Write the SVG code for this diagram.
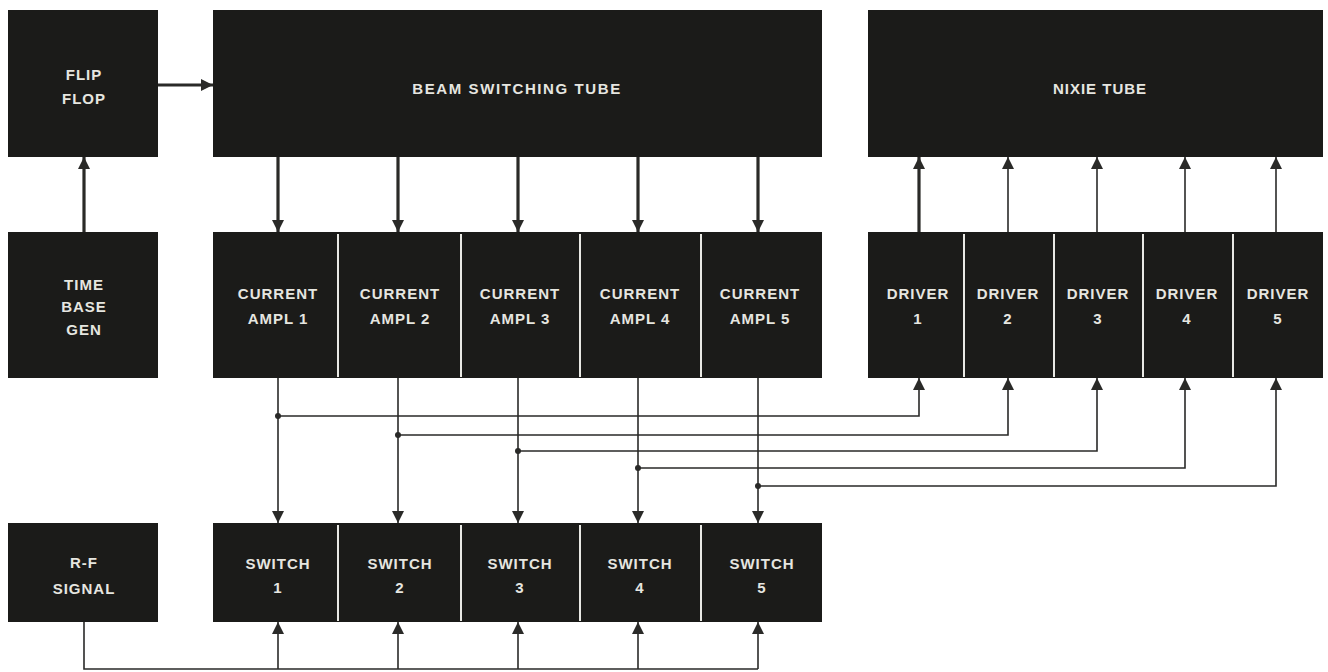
<svg xmlns="http://www.w3.org/2000/svg" width="1328" height="672" viewBox="0 0 1328 672">
<style>
.box{fill:#1b1b19;}
.div{stroke:#e9e9e4;stroke-width:2;}
.t{font-family:"Liberation Sans",Arial,sans-serif;font-weight:bold;font-size:15px;fill:#e6e6e0;text-anchor:middle;letter-spacing:1px;}
.w{fill:none;stroke:#2a2a28;stroke-width:1.6;}
.wt{fill:none;stroke:#2a2a28;stroke-width:3.2;}
.dot{fill:#2a2a28;}
</style>
<defs>
<marker id="ah" markerUnits="userSpaceOnUse" markerWidth="12" markerHeight="14" viewBox="0 0 12 14" refX="12" refY="7" orient="auto">
<path d="M0,1 L12,7 L0,13 Z" fill="#2a2a28"/>
</marker>
</defs>
<rect x="0" y="0" width="1328" height="672" fill="#ffffff"/>

<g id="flipflop"><rect class="box" x="8" y="10" width="150" height="147"/><text class="t" x="84" y="80">FLIP</text><text class="t" x="84" y="104">FLOP</text></g>
<g id="beam"><rect class="box" x="213" y="10" width="609" height="147"/><text class="t" x="517" y="94" style="letter-spacing:1.6px">BEAM SWITCHING TUBE</text></g>
<g id="nixie"><rect class="box" x="868" y="10" width="455" height="147"/><text class="t" x="1100" y="94">NIXIE TUBE</text></g>
<g id="timebase"><rect class="box" x="8" y="232" width="150" height="146"/><text class="t" x="84" y="290">TIME</text><text class="t" x="84" y="312">BASE</text><text class="t" x="84" y="335">GEN</text></g>
<g id="rfsignal"><rect class="box" x="8" y="523" width="150" height="99"/><text class="t" x="84" y="568">R-F</text><text class="t" x="84" y="594">SIGNAL</text></g>

<g id="ampl1"><rect class="box" x="213" y="232" width="125" height="146"/><text class="t" x="278" y="299">CURRENT</text><text class="t" x="278" y="324">AMPL 1</text></g>
<g id="ampl2"><rect class="box" x="338" y="232" width="123" height="146"/><text class="t" x="400" y="299">CURRENT</text><text class="t" x="400" y="324">AMPL 2</text></g>
<g id="ampl3"><rect class="box" x="461" y="232" width="119" height="146"/><text class="t" x="520" y="299">CURRENT</text><text class="t" x="520" y="324">AMPL 3</text></g>
<g id="ampl4"><rect class="box" x="580" y="232" width="121" height="146"/><text class="t" x="640" y="299">CURRENT</text><text class="t" x="640" y="324">AMPL 4</text></g>
<g id="ampl5"><rect class="box" x="701" y="232" width="121" height="146"/><text class="t" x="760" y="299">CURRENT</text><text class="t" x="760" y="324">AMPL 5</text></g>
<g class="dividers"><line class="div" x1="338" y1="234" x2="338" y2="377"/><line class="div" x1="461" y1="234" x2="461" y2="377"/><line class="div" x1="580" y1="234" x2="580" y2="377"/><line class="div" x1="701" y1="234" x2="701" y2="377"/></g>

<g id="driver1"><rect class="box" x="868" y="232" width="96" height="146"/><text class="t" x="918" y="299">DRIVER</text><text class="t" x="918" y="324">1</text></g>
<g id="driver2"><rect class="box" x="964" y="232" width="90" height="146"/><text class="t" x="1008" y="299">DRIVER</text><text class="t" x="1008" y="324">2</text></g>
<g id="driver3"><rect class="box" x="1054" y="232" width="89" height="146"/><text class="t" x="1098" y="299">DRIVER</text><text class="t" x="1098" y="324">3</text></g>
<g id="driver4"><rect class="box" x="1143" y="232" width="90" height="146"/><text class="t" x="1187" y="299">DRIVER</text><text class="t" x="1187" y="324">4</text></g>
<g id="driver5"><rect class="box" x="1233" y="232" width="90" height="146"/><text class="t" x="1278" y="299">DRIVER</text><text class="t" x="1278" y="324">5</text></g>
<g class="dividers"><line class="div" x1="964" y1="234" x2="964" y2="377"/><line class="div" x1="1054" y1="234" x2="1054" y2="377"/><line class="div" x1="1143" y1="234" x2="1143" y2="377"/><line class="div" x1="1233" y1="234" x2="1233" y2="377"/></g>

<g id="switch1"><rect class="box" x="213" y="523" width="125" height="99"/><text class="t" x="278" y="569">SWITCH</text><text class="t" x="278" y="593">1</text></g>
<g id="switch2"><rect class="box" x="338" y="523" width="123" height="99"/><text class="t" x="400" y="569">SWITCH</text><text class="t" x="400" y="593">2</text></g>
<g id="switch3"><rect class="box" x="461" y="523" width="119" height="99"/><text class="t" x="520" y="569">SWITCH</text><text class="t" x="520" y="593">3</text></g>
<g id="switch4"><rect class="box" x="580" y="523" width="121" height="99"/><text class="t" x="640" y="569">SWITCH</text><text class="t" x="640" y="593">4</text></g>
<g id="switch5"><rect class="box" x="701" y="523" width="121" height="99"/><text class="t" x="762" y="569">SWITCH</text><text class="t" x="762" y="593">5</text></g>
<g class="dividers"><line class="div" x1="338" y1="525" x2="338" y2="621"/><line class="div" x1="461" y1="525" x2="461" y2="621"/><line class="div" x1="580" y1="525" x2="580" y2="621"/><line class="div" x1="701" y1="525" x2="701" y2="621"/></g>

<g id="connectors">
<line class="wt" x1="158" y1="85" x2="213" y2="85" marker-end="url(#ah)"/>
<line class="wt" x1="84" y1="232" x2="84" y2="157" marker-end="url(#ah)"/>
<line class="wt" x1="278" y1="157" x2="278" y2="232" marker-end="url(#ah)"/>
<line class="wt" x1="398" y1="157" x2="398" y2="232" marker-end="url(#ah)"/>
<line class="wt" x1="518" y1="157" x2="518" y2="232" marker-end="url(#ah)"/>
<line class="wt" x1="638" y1="157" x2="638" y2="232" marker-end="url(#ah)"/>
<line class="wt" x1="758" y1="157" x2="758" y2="232" marker-end="url(#ah)"/>
<line class="wt" x1="919" y1="232" x2="919" y2="157" marker-end="url(#ah)"/>
<line class="w" x1="1008" y1="232" x2="1008" y2="157" marker-end="url(#ah)"/>
<line class="w" x1="1097" y1="232" x2="1097" y2="157" marker-end="url(#ah)"/>
<line class="w" x1="1185" y1="232" x2="1185" y2="157" marker-end="url(#ah)"/>
<line class="w" x1="1276" y1="232" x2="1276" y2="157" marker-end="url(#ah)"/>
<line class="w" x1="278" y1="378" x2="278" y2="523" marker-end="url(#ah)"/>
<line class="w" x1="398" y1="378" x2="398" y2="523" marker-end="url(#ah)"/>
<line class="w" x1="518" y1="378" x2="518" y2="523" marker-end="url(#ah)"/>
<line class="w" x1="638" y1="378" x2="638" y2="523" marker-end="url(#ah)"/>
<line class="w" x1="758" y1="378" x2="758" y2="523" marker-end="url(#ah)"/>
<path class="w" d="M278,416 H919 V378" marker-end="url(#ah)"/>
<path class="w" d="M398,435 H1008 V378" marker-end="url(#ah)"/>
<path class="w" d="M518,451 H1097 V378" marker-end="url(#ah)"/>
<path class="w" d="M638,468 H1185 V378" marker-end="url(#ah)"/>
<path class="w" d="M758,486 H1276 V378" marker-end="url(#ah)"/>
<circle class="dot" cx="278" cy="416" r="3"/>
<circle class="dot" cx="398" cy="435" r="3"/>
<circle class="dot" cx="518" cy="451" r="3"/>
<circle class="dot" cx="638" cy="468" r="3"/>
<circle class="dot" cx="758" cy="486" r="3"/>
<path class="w" d="M84,622 V669 H758"/>
<line class="w" x1="278" y1="669" x2="278" y2="622" marker-end="url(#ah)"/>
<line class="w" x1="398" y1="669" x2="398" y2="622" marker-end="url(#ah)"/>
<line class="w" x1="518" y1="669" x2="518" y2="622" marker-end="url(#ah)"/>
<line class="w" x1="638" y1="669" x2="638" y2="622" marker-end="url(#ah)"/>
<line class="w" x1="758" y1="669" x2="758" y2="622" marker-end="url(#ah)"/>
</g>
</svg>
